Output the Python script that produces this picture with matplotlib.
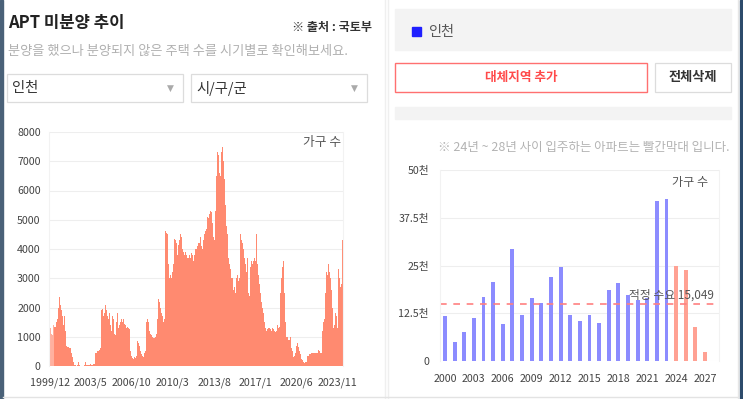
import numpy as np
import pandas as pd
import matplotlib
matplotlib.use("Agg")
import matplotlib.pyplot as plt
from matplotlib.patches import Rectangle

plt.rcParams["font.family"] = ["Noto Sans CJK KR", "DejaVu Sans"]

W, H = 743, 399

# monthly unsold apartments, Incheon, from 1999/12
unsold = [
    1600, 1300, 1100, 1050, 1400, 1350, 1350, 1500, 1600, 2000, 2350, 2100, 1900,
    1700, 1400, 1700, 1200, 700, 650, 650, 600, 600, 450, 300, 150,
    50, 20, 10, 30, 150, 20, 10, 0, 10, 10, 30, 130,
    40, 20, 30, 50, 60, 40, 30, 80, 60, 450, 450, 500,
    500, 550, 600, 1900, 1950, 1700, 1800, 2100, 1900, 1700, 1600, 1800,
    1400, 1200, 1700, 1600, 1100, 1050, 1500, 1800, 1300, 1400, 1500, 1600,
    1500, 1600, 1450, 1400, 1300, 1350, 1300, 1250, 500, 350, 280, 250,
    300, 280, 350, 850, 800, 700, 500, 400, 350, 300, 450, 500,
    1500, 1600, 1500, 1200, 1100, 1050, 1000, 950, 950, 1000, 1100, 1600,
    2300, 2200, 2000, 1800, 1700, 1500, 1600, 4600, 4550, 4500, 3500, 3000,
    3100, 3000, 3200, 3500, 4350, 4300, 4200, 3800, 4150, 4300, 4500, 4400,
    4000, 3900, 3800, 3900, 3800, 3700, 3700, 3800, 3700, 3850, 3800, 3600,
    3800, 4000, 4100, 4200, 4200, 4400, 4100, 4000, 4300, 4500, 4600, 4700,
    5100, 5050, 5200, 5300, 5250, 4900, 4400, 4300, 5300, 6500, 7300, 7200,
    6600, 6500, 7300, 7500, 7000, 6400, 5500, 4800, 4500, 3700, 3500, 3300,
    3000, 3000, 2600, 2700, 2500, 3000, 3100, 2900, 3000, 4500, 4300, 4200,
    4000, 3700, 3500, 3200, 3700, 2500, 2400, 3400, 3600, 3500, 3600, 3700,
    3600, 4500, 3500, 3100, 2800, 2500, 2200, 2000, 1800, 1500, 1300, 1200,
    1250, 1300, 1300, 1250, 1200, 1300, 1250, 1200, 1150, 1200, 1400, 1300,
    1350, 2500, 3000, 3400, 3600, 2500, 1500, 1000, 1000, 900, 900, 1000,
    600, 500, 300, 350, 450, 700, 800, 650, 500, 400, 250, 200,
    120, 100, 150, 150, 350, 350, 400, 400, 450, 450, 430, 450,
    450, 450, 450, 550, 500, 450, 450, 1200, 1500, 1600, 2500, 3200,
    3100, 3500, 3200, 3000, 2600, 2000, 1300, 1400, 1800, 1700, 1300, 3300,
    3000, 2700, 2800, 4300,
]
left_yticks = [0, 1000, 2000, 3000, 4000, 5000, 6000, 7000, 8000]

# yearly move-in supply
years = list(range(2000, 2028))
supply = [11800, 5100, 7700, 11200, 16700, 20700, 9700, 29200, 12000, 16400,
          15100, 22000, 24500, 12000, 10500, 12000, 10000, 18700, 20500, 17400,
          16000, 16500, 42000, 42500, 24800, 23800, 8900, 2400]
demand = 15049
right_yticks = [0, 12500, 25000, 37500, 50000]
right_ylabels = ["0", "12.5천", "25천", "37.5천", "50천"]


def px_axes(x0, y0, x1, y1):
    return fig.add_axes([x0 / W, 1 - y1 / H, (x1 - x0) / W, (y1 - y0) / H])


fig = plt.figure(figsize=(W / 100, H / 100), dpi=100, facecolor="white")

# ---- page background / widgets
bg = fig.add_axes([0, 0, 1, 1])
bg.set_xlim(0, W)
bg.set_ylim(H, 0)
bg.axis("off")

bg.add_patch(Rectangle((0, 0), 3, H, color="#4a6178"))
bg.add_patch(Rectangle((740, 0), 3, H, color="#2d4b6b"))
bg.plot([737.5, 737.5], [0, H], color="#e6e6e6", lw=1)
bg.plot([384.5, 384.5], [0, H], color="#efefef", lw=1)
bg.plot([387.5, 387.5], [0, H], color="#efefef", lw=1)
bg.plot([3, 737], [396.5, 396.5], color="#e3e3e3", lw=1)

bg.text(8, 23, "APT 미분양 추이", fontsize=12, fontweight="bold", color="#222222",
        va="center", ha="left")
bg.text(372, 28, "※ 출처 : 국토부", fontsize=8.7, fontweight="bold", color="#333333",
        va="center", ha="right")
bg.text(8, 51, "분양을 했으나 분양되지 않은 주택 수를 시기별로 확인해보세요.",
        fontsize=9.5, color="#b0b0b0", va="center", ha="left")

for x0, label in [(7, "인천"), (191, "시/구/군")]:
    bg.add_patch(Rectangle((x0, 74), 176, 28, facecolor="white",
                           edgecolor="#dcdcdc", lw=0.9))
    bg.text(x0 + 5, 88, label, fontsize=10.3, color="#333333", va="center",
            ha="left", fontweight="medium")
    bg.text(x0 + 163, 88, "▼", fontsize=6.5, color="#aaaaaa", va="center",
            ha="center", family=["DejaVu Sans"])

bg.add_patch(Rectangle((395, 9), 336, 41, color="#f3f3f3"))
bg.add_patch(Rectangle((412, 27), 9, 9, color="#1f1fff"))
bg.text(428, 32, "인천", fontsize=10.2, color="#555555", va="center", ha="left")

bg.add_patch(Rectangle((395, 63), 252, 29, facecolor="white",
                       edgecolor="#ff7070", lw=1))
bg.text(521, 77.5, "대체지역 추가", fontsize=9.1, fontweight="bold",
        color="#ff4a4a", va="center", ha="center")
bg.add_patch(Rectangle((655, 63), 76, 29, facecolor="white",
                       edgecolor="#dcdcdc", lw=0.9))
bg.text(693, 77.5, "전체삭제", fontsize=9.5, fontweight="bold",
        color="#333333", va="center", ha="center")
bg.add_patch(Rectangle((395, 107), 336, 12, color="#f3f3f3"))
bg.text(730, 147, "※ 24년 ~ 28년 사이 입주하는 아파트는 빨간막대 입니다.",
        fontsize=9.0, color="#b3b3b3", va="center", ha="right")

# ---- left chart: monthly unsold
ax1 = px_axes(49, 132, 343, 366)
months = pd.period_range("1999-12", periods=len(unsold), freq="M")
xs = np.arange(len(unsold))
colors = ["#ffb09f" if i < 5 else "#ff8a70" for i in xs]
ax1.bar(xs, unsold, width=1.0, color=colors, linewidth=0)
ax1.set_xlim(-0.5, len(unsold) - 0.5)
ax1.set_ylim(0, 8000)
ax1.set_yticks(left_yticks)
ax1.set_yticklabels([str(v) for v in left_yticks])
tick_idx = list(range(0, len(unsold), 41))
ax1.set_xticks(tick_idx)
ax1.set_xticklabels([f"{months[i].year}/{months[i].month}" for i in tick_idx])
ax1.grid(axis="y", color="#eeeeee", lw=0.8)
ax1.set_axisbelow(True)
for s in ["top", "bottom"]:
    ax1.spines[s].set_visible(False)
for s in ["left", "right"]:
    ax1.spines[s].set_color("#f2f2f2")
ax1.tick_params(length=0, labelsize=7.7, labelcolor="#444444")
ax1.tick_params(axis="y", pad=6)
ax1.tick_params(axis="x", pad=8)
ax1.text(0.995, 0.955, "가구 수", transform=ax1.transAxes, ha="right", va="center",
         fontsize=9.2, color="#555555")

# ---- right chart: yearly supply
ax2 = px_axes(440, 170, 719, 361)
bar_colors = ["#ffa193" if y >= 2024 else "#8c8cff" for y in years]
ax2.bar(years, supply, width=0.4, color=bar_colors, linewidth=0)
ax2.axhline(demand, color="#ff8080", lw=1.2, ls=(0, (4, 4)))
ax2.set_xlim(1999.48, 2028.45)
ax2.set_ylim(0, 50000)
ax2.set_yticks(right_yticks)
ax2.set_yticklabels(right_ylabels)
ax2.set_xticks(years[::3])
ax2.set_xticklabels([str(y) for y in years[::3]])
ax2.grid(axis="y", color="#eeeeee", lw=0.8)
ax2.set_axisbelow(True)
for s in ["top", "bottom"]:
    ax2.spines[s].set_visible(False)
for s in ["left", "right"]:
    ax2.spines[s].set_color("#f2f2f2")
ax2.tick_params(length=0, labelsize=7.7, labelcolor="#444444")
ax2.tick_params(axis="y", pad=8)
ax2.tick_params(axis="x", pad=9)
ax2.text(0.96, 0.935, "가구 수", transform=ax2.transAxes, ha="right", va="center",
         fontsize=8.7, color="#555555")
ax2.text(2027.9, demand + 2300, f"적정 수요 {demand:,}", ha="right", va="center",
         fontsize=8.5, color="#555555")

fig.savefig("out.png", dpi=100, facecolor="white")
